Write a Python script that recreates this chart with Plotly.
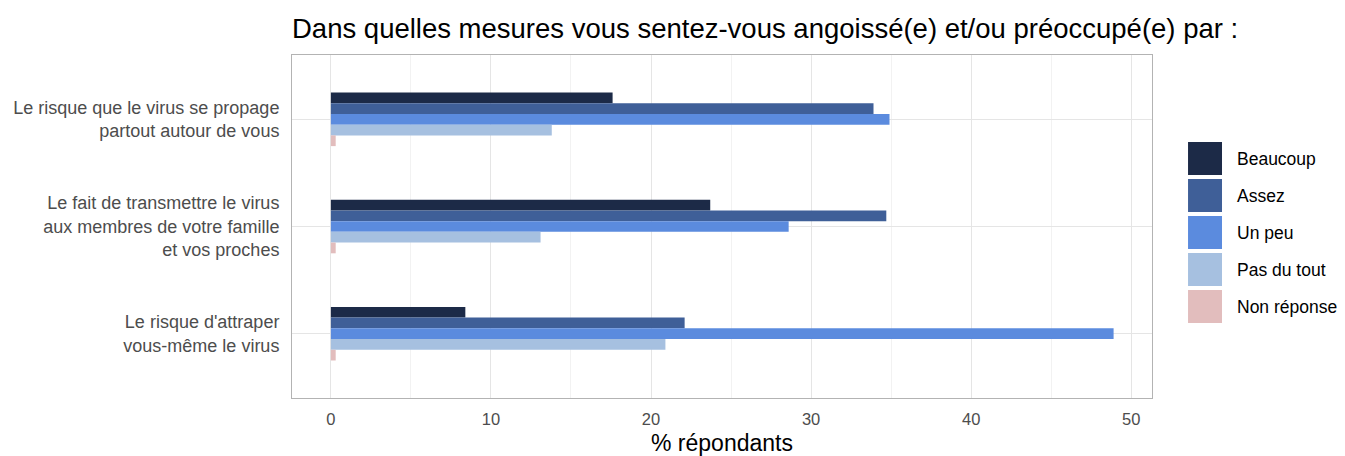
import plotly.graph_objects as go

categories = [
    "Le risque que le virus se propage<br>partout autour de vous",
    "Le fait de transmettre le virus<br>aux membres de votre famille<br>et vos proches",
    "Le risque d'attraper<br>vous-même le virus",
]
series_names = ["Beaucoup", "Assez", "Un peu", "Pas du tout", "Non réponse"]
beaucoup = [17.6, 23.7, 8.4]
assez = [33.9, 34.7, 22.1]
un_peu = [34.9, 28.6, 48.9]
pas_du_tout = [13.8, 13.1, 20.9]
non_reponse = [0.3, 0.3, 0.3]
values = [beaucoup, assez, un_peu, pas_du_tout, non_reponse]
colors = ["#1c2a47", "#3f5f98", "#5b8bde", "#a6c0e0", "#e2bdbd"]
x_ticks = [0, 10, 20, 30, 40, 50]

fig = go.Figure()
for name, vals, col in zip(series_names, values, colors):
    fig.add_trace(go.Bar(
        y=categories, x=vals, name=name, orientation="h",
        marker=dict(color=col, line=dict(width=0)),
        showlegend=False,
    ))

# custom legend with large square keys (ggplot style)
key_x0, key_x1, text_x = 1.0419, 1.0814, 1.0965
top, step, h = 0.7464, 0.1079, 0.0965
shapes = []
annotations = []
for i, (name, col) in enumerate(zip(series_names, colors)):
    y1 = top - i * step
    y0 = y1 - h
    shapes.append(dict(type="rect", xref="paper", yref="paper",
                       x0=key_x0, x1=key_x1, y0=y0, y1=y1,
                       fillcolor=col, line=dict(width=0)))
    annotations.append(dict(xref="paper", yref="paper", x=text_x, y=(y0 + y1) / 2,
                            text=name, showarrow=False, xanchor="left", yanchor="middle",
                            font=dict(size=17.5, color="black")))

fig.update_layout(
    width=1337, height=448,
    barmode="group", bargap=0.5, bargroupgap=0,
    plot_bgcolor="white", paper_bgcolor="white",
    font=dict(family="Liberation Sans, Arial, sans-serif", color="#4d4d4d"),
    margin=dict(l=284, r=193, t=47, b=58, autoexpand=False),
    showlegend=False,
    shapes=shapes,
    annotations=annotations,
    title=dict(
        text="Dans quelles mesures vous sentez-vous angoissé(e) et/ou préoccupé(e) par :",
        x=0, xref="paper", xanchor="left", y=0.955, yref="container", yanchor="middle",
        font=dict(size=27.5, color="black"),
        automargin=False,
    ),
    xaxis=dict(
        automargin=False,
        range=[-2.43, 51.3],
        tickvals=x_ticks, ticktext=[str(t) for t in x_ticks],
        tickfont=dict(size=16.5, color="#4d4d4d"),
        showgrid=True, gridcolor="#e5e5e5", gridwidth=1,
        minor=dict(dtick=5, showgrid=True, gridcolor="#f2f2f2", gridwidth=1),
        zeroline=False,
        showline=True, linecolor="#b3b3b3", linewidth=1, mirror=True,
        ticks="", ticklen=0, ticklabelstandoff=6,
        title=dict(text="% répondants", font=dict(size=23, color="black"), standoff=10),
    ),
    yaxis=dict(
        automargin=False,
        range=[2.6, -0.6],
        tickfont=dict(size=18, color="#4d4d4d"),
        showgrid=True, gridcolor="#e5e5e5", gridwidth=1,
        zeroline=False,
        showline=True, linecolor="#b3b3b3", linewidth=1, mirror=True,
        ticks="", ticklen=0, ticklabelstandoff=8,
    ),
)

fig.write_html("out.html")
